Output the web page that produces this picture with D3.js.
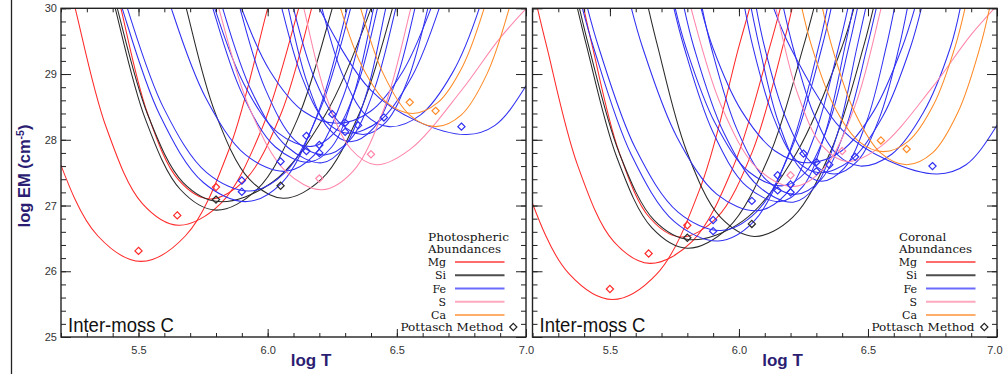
<!DOCTYPE html>
<html>
<head>
<meta charset="utf-8">
<script src="https://cdn.jsdelivr.net/npm/d3@7"></script>
<style>
body { margin: 0; background: #fff; }
text { font-family: "Liberation Sans", Arial, sans-serif; }
</style>
</head>
<body>
<svg id="fig" width="1003" height="374"></svg>
<script>
// element order used everywhere below
var elements = ["Mg", "Si", "Fe", "S", "Ca"];
// coronal minus photospheric abundance (dex)
var coronalShift = [-0.58, -0.58, -0.60, 0.05, -0.58];

// EM loci, photospheric abundances: [log T, log EM]
// (first and last points run a little past the top so the coronal copies still reach it)
var mgLoci = [
	[[4.98, 30.65], [5.03, 30], [5.174, 27.88], [5.342, 26.54], [5.51, 26.15], [5.682, 26.54], [5.853, 27.88], [6.00, 30], [6.05, 30.7]],
	[[5.215, 30.65], [5.255, 30], [5.375, 28.19], [5.515, 27.03], [5.655, 26.70], [5.818, 27.03], [5.98, 28.19], [6.12, 30], [6.165, 30.65]],
	[[5.395, 30.65], [5.432, 30], [5.535, 28.40], [5.655, 27.39], [5.775, 27.10], [5.913, 27.39], [6.052, 28.40], [6.17, 30], [6.21, 30.65]]
];
var siLoci = [
	[[5.37, 30.65], [5.41, 30], [5.527, 28.31], [5.663, 27.24], [5.80, 26.93], [5.958, 27.24], [6.115, 28.31], [6.25, 30], [6.295, 30.65]],
	[[5.378, 30.65], [5.418, 30], [5.536, 28.38], [5.673, 27.35], [5.81, 27.06], [6.017, 27.35], [6.223, 28.38], [6.40, 30], [6.45, 30.65]],
	[[5.645, 30.65], [5.685, 30], [5.797, 28.41], [5.929, 27.40], [6.06, 27.11], [6.208, 27.40], [6.356, 28.41], [6.483, 30], [6.525, 30.65]]
];
var feLoci = [
	[[5.39, 30.65], [5.437, 30], [5.582, 28.38], [5.751, 27.35], [5.92, 27.06], [6.056, 27.35], [6.192, 28.38], [6.308, 30], [6.345, 30.65]],
	[[5.41, 30.65], [5.457, 30], [5.599, 28.47], [5.764, 27.50], [5.93, 27.22], [6.067, 27.50], [6.204, 28.47], [6.321, 30], [6.36, 30.65]],
	[[5.58, 30.65], [5.627, 30], [5.76, 28.64], [5.915, 27.77], [6.07, 27.52], [6.181, 27.77], [6.291, 28.64], [6.386, 30], [6.425, 30.65]],
	[[5.745, 30.65], [5.788, 30], [5.90, 28.71], [6.03, 27.89], [6.16, 27.66], [6.248, 27.89], [6.335, 28.71], [6.41, 30], [6.445, 30.65]],
	[[5.75, 30.65], [5.795, 30], [5.908, 28.85], [6.039, 28.11], [6.17, 27.90], [6.259, 28.11], [6.349, 28.85], [6.425, 30], [6.462, 30.65]],
	[[5.785, 30.65], [5.826, 30], [5.941, 28.71], [6.076, 27.89], [6.21, 27.65], [6.296, 27.89], [6.383, 28.71], [6.457, 30], [6.494, 30.65]],
	[[5.855, 30.65], [5.893, 30], [5.991, 28.77], [6.106, 27.99], [6.22, 27.77], [6.317, 27.99], [6.413, 28.77], [6.496, 30], [6.535, 30.65]],
	[[5.85, 30.65], [5.899, 30], [6.01, 29.04], [6.14, 28.43], [6.27, 28.25], [6.397, 28.43], [6.523, 29.04], [6.632, 30], [6.685, 30.65]],
	[[6.02, 30.65], [6.055, 30], [6.132, 28.96], [6.221, 28.29], [6.31, 28.10], [6.434, 28.29], [6.558, 28.96], [6.664, 30], [6.71, 30.65]],
	[[6.045, 30.65], [6.08, 30], [6.152, 28.88], [6.236, 28.17], [6.32, 27.97], [6.408, 28.17], [6.495, 28.88], [6.57, 30], [6.605, 30.65]],
	[[6.065, 30.65], [6.10, 30], [6.181, 28.94], [6.276, 28.27], [6.37, 28.08], [6.458, 28.27], [6.545, 28.94], [6.62, 30], [6.655, 30.65]],
	[[6.17, 30.65], [6.21, 30], [6.288, 29.01], [6.379, 28.38], [6.47, 28.20], [6.592, 28.38], [6.714, 29.01], [6.819, 30], [6.86, 30.65]],
	[[6.13, 30.65], [6.20, 30], [6.40, 28.75], [6.58, 28.28], [6.77, 28.08], [6.88, 28.22], [7.0, 28.82], [7.1, 29.6]]
];
var sLoci = [
	[[5.77, 30.65], [5.811, 30], [5.93, 28.48], [6.07, 27.52], [6.21, 27.24], [6.33, 27.52], [6.451, 28.48], [6.554, 30], [6.595, 30.65]],
	[[6.10, 30.65], [6.14, 30], [6.224, 28.69], [6.322, 27.86], [6.42, 27.62], [6.55, 27.85], [6.75, 28.75], [6.90, 29.55], [7.05, 30.2]]
];
var caLoci = [
	[[6.24, 30.65], [6.282, 30], [6.365, 29.12], [6.463, 28.56], [6.56, 28.40], [6.657, 28.56], [6.755, 29.12], [6.838, 30], [6.88, 30.65]],
	[[6.32, 30.65], [6.36, 30], [6.447, 29.01], [6.549, 28.38], [6.65, 28.20], [6.75, 28.38], [6.85, 29.01], [6.935, 30], [6.975, 30.65]]
];

// Pottasch method points, photospheric abundances
var mgPottasch = [[5.50, 26.31], [5.65, 26.85], [5.80, 27.28]];
var siPottasch = [[5.80, 27.09], [6.05, 27.30]];
var fePottasch = [[5.90, 27.38], [5.90, 27.21], [6.05, 27.67], [6.15, 27.83], [6.15, 28.06], [6.20, 27.80],
	[6.20, 27.92], [6.25, 28.39], [6.30, 28.26], [6.30, 28.12], [6.35, 28.22], [6.45, 28.34], [6.75, 28.20]];
var sPottasch = [[6.20, 27.41], [6.40, 27.78]];
var caPottasch = [[6.55, 28.57], [6.65, 28.44]];

var xTickLabels = [5.5, 6.0, 6.5, 7.0];
var yTickLabels = [25, 26, 27, 28, 29, 30];
var panelNames = ["Photospheric", "Coronal"];
var regionName = "Inter-moss C";

var lociByElement = [mgLoci, siLoci, feLoci, sLoci, caLoci];
var pottaschByElement = [mgPottasch, siPottasch, fePottasch, sPottasch, caPottasch];

var lineColor = ["#ff2b2b", "#2a2a2a", "#3030f2", "#ff86aa", "#ff8a26"];
var legendColor = ["#ff6b6b", "#4d4d4d", "#6a6aff", "#ffa8c0", "#ffad6a"];
var labelColor = "#2b1d72";

var svg = d3.select("#fig");
var yRange = [337, 8.3];
var panels = [
	{ range: [61, 526], shift: false, name: panelNames[0], yLabels: true },
	{ range: [532.5, 997], shift: true, name: panelNames[1], yLabels: false }
];

// frame line at the far left of the figure
svg.append("line")
	.attr("x1", 11.5).attr("x2", 11.5)
	.attr("y1", 0).attr("y2", 374)
	.style("stroke", "#222").style("stroke-width", 1.3);

function diamond(g, cx, cy, color) {
	var r = 3.6;
	g.append("path")
		.attr("d", "M" + cx + "," + (cy - r) + "L" + (cx + r) + "," + cy + "L" + cx + "," + (cy + r) + "L" + (cx - r) + "," + cy + "Z")
		.style("fill", "none")
		.style("stroke", color)
		.style("stroke-width", 1.2);
}

panels.forEach(function (p, pi) {
	var x = d3.scaleLinear().domain([5.2, 7.0]).range(p.range);
	var y = d3.scaleLinear().domain([25, 30]).range(yRange);
	var g = svg.append("g");
	var clipId = "clip" + pi;

	svg.append("clipPath").attr("id", clipId)
		.append("rect")
		.attr("x", p.range[0]).attr("y", yRange[1])
		.attr("width", p.range[1] - p.range[0])
		.attr("height", yRange[0] - yRange[1]);

	var plot = g.append("g").attr("clip-path", "url(#" + clipId + ")");

	elements.forEach(function (el, ei) {
		var s = p.shift ? coronalShift[ei] : 0;
		var line = d3.line()
			.x(function (d) { return x(d[0]); })
			.y(function (d) { return y(d[1] + s); })
			.curve(d3.curveCatmullRom.alpha(0.5));
		lociByElement[ei].forEach(function (c) {
			plot.append("path")
				.attr("d", line(c))
				.style("fill", "none")
				.style("stroke", lineColor[ei])
				.style("stroke-width", 1.05);
		});
	});
	elements.forEach(function (el, ei) {
		var s = p.shift ? coronalShift[ei] : 0;
		pottaschByElement[ei].forEach(function (d) {
			diamond(plot, x(d[0]), y(d[1] + s), lineColor[ei]);
		});
	});

	// axes: minor and major ticks on all four sides, pointing inward
	var minorX = d3.range(5.2, 7.0001, 0.1);
	var minorY = d3.range(25, 30.0001, 0.2);
	function clean(sel) { sel.select(".domain").remove(); sel.selectAll("line").style("stroke", "#222"); }

	g.append("g").attr("transform", "translate(0," + yRange[0] + ")")
		.call(d3.axisBottom(x).tickValues(minorX).tickSize(-4).tickFormat("")).call(clean);
	var xl = g.append("g").attr("transform", "translate(0," + yRange[0] + ")")
		.call(d3.axisBottom(x).tickValues(xTickLabels).tickSize(-8).tickPadding(9).tickFormat(d3.format(".1f")))
		.call(clean);
	xl.selectAll("text").style("font-size", "11px").style("fill", "#333");
	// the last label of the right panel sits at the figure edge: keep it inside
	if (pi === 1) {
		xl.selectAll("text").filter(function (d) { return d === 7.0; })
			.attr("text-anchor", "end").attr("x", 1002 - p.range[1]);
	}
	g.append("g").attr("transform", "translate(0," + yRange[1] + ")")
		.call(d3.axisTop(x).tickValues(minorX).tickSize(-4).tickFormat("")).call(clean);
	g.append("g").attr("transform", "translate(0," + yRange[1] + ")")
		.call(d3.axisTop(x).tickValues(xTickLabels).tickSize(-8).tickFormat("")).call(clean);

	g.append("g").attr("transform", "translate(" + p.range[0] + ",0)")
		.call(d3.axisLeft(y).tickValues(minorY).tickSize(-5).tickFormat("")).call(clean);
	var yl = g.append("g").attr("transform", "translate(" + p.range[0] + ",0)")
		.call(d3.axisLeft(y).tickValues(yTickLabels).tickSize(-10).tickPadding(4)
			.tickFormat(p.yLabels ? d3.format("d") : ""))
		.call(clean);
	yl.selectAll("text").style("font-size", "11px").style("fill", "#333");
	g.append("g").attr("transform", "translate(" + p.range[1] + ",0)")
		.call(d3.axisRight(y).tickValues(minorY).tickSize(-5).tickFormat("")).call(clean);
	g.append("g").attr("transform", "translate(" + p.range[1] + ",0)")
		.call(d3.axisRight(y).tickValues(yTickLabels).tickSize(-10).tickFormat("")).call(clean);

	g.append("rect")
		.attr("x", p.range[0]).attr("y", yRange[1])
		.attr("width", p.range[1] - p.range[0])
		.attr("height", yRange[0] - yRange[1])
		.style("fill", "none").style("stroke", "#222").style("stroke-width", 1.4);

	// x axis title
	g.append("text")
		.attr("x", p.range[0] + 250).attr("y", 366)
		.attr("text-anchor", "middle")
		.style("font-size", "17px").style("font-weight", "bold").style("fill", labelColor)
		.text("log T");

	// region name
	g.append("text")
		.attr("x", p.range[0] + 7).attr("y", 331.5)
		.attr("textLength", 106).attr("lengthAdjust", "spacingAndGlyphs")
		.style("font-size", "20px").style("fill", "#111")
		.text(regionName);

	// legend
	var R = p.range[1];
	var lg = g.append("g").style("fill", "#111");
	lg.append("text").attr("x", R - 98).attr("y", 240.5).style("font-size", "11px")
		.attr("textLength", p.name.length * 6.75).attr("lengthAdjust", "spacingAndGlyphs")
		.style("font-family", "'DejaVu Serif', serif").text(p.name);
	lg.append("text").attr("x", R - 98).attr("y", 252.8).style("font-size", "11px")
		.attr("textLength", 73).attr("lengthAdjust", "spacingAndGlyphs")
		.style("font-family", "'DejaVu Serif', serif").text("Abundances");
	elements.forEach(function (el, ei) {
		var ly = 262 + ei * 13.25;
		lg.append("text").attr("x", R - 80).attr("y", ly + 4)
			.attr("text-anchor", "end").style("font-size", "11px")
			.style("font-family", "'DejaVu Serif', serif").text(el);
		lg.append("line")
			.attr("x1", R - 71).attr("x2", R - 21.5)
			.attr("y1", ly).attr("y2", ly)
			.style("stroke", legendColor[ei]).style("stroke-width", 2);
	});
	lg.append("text").attr("x", R - 22.5).attr("y", 331)
		.attr("text-anchor", "end").style("font-size", "11px")
		.attr("textLength", 103).attr("lengthAdjust", "spacingAndGlyphs")
		.style("font-family", "'DejaVu Serif', serif").text("Pottasch Method");
	diamond(lg, R - 12.7, 327, "#222");
});

// y axis title
var yt = svg.append("text")
	.attr("transform", "translate(30,176) rotate(-90)")
	.attr("text-anchor", "middle")
	.style("font-size", "16.5px").style("font-weight", "bold").style("fill", labelColor);
yt.append("tspan").text("log EM (cm");
yt.append("tspan").attr("dy", -6).style("font-size", "10.5px").text("-5");
yt.append("tspan").attr("dy", 6).text(")");
</script>
</body>
</html>
